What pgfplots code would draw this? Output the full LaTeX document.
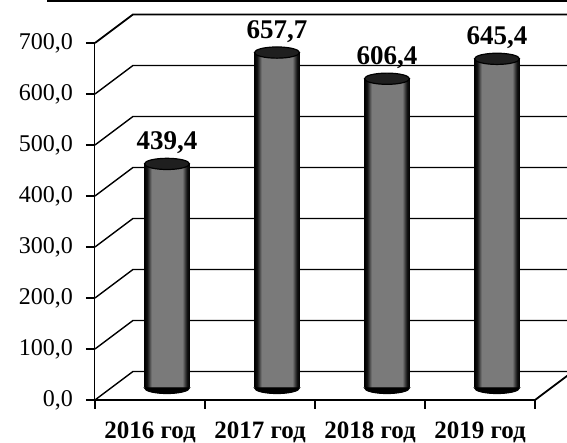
\documentclass[border=0pt]{standalone}
\usepackage{pgfplots}
\pgfplotsset{compat=1.18}
\usepackage{pgfplotstable}
\usepackage{fontspec}
\setmainfont{Liberation Serif}

\pgfdeclarehorizontalshading{cyl}{100bp}{color(0bp)=(black); color(25bp)=(black); color(28bp)=(black!92); color(33bp)=(black!52); color(67bp)=(black!52); color(72bp)=(black!92); color(75bp)=(black); color(100bp)=(black)}
\pgfdeclareplotmark{cap}{\pgfpathellipse{\pgfpointorigin}{\pgfqpoint{11.25pt}{0pt}}{\pgfqpoint{0pt}{2.8pt}}\pgfusepathqfillstroke}
\pgfdeclareplotmark{capbot}{\pgfpathmoveto{\pgfqpoint{-11.25pt}{0pt}}\pgfpatharc{180}{360}{11.25pt and 2.8pt}\pgfpathclose\pgfusepathqfillstroke}

\pgfplotstableread{
x v
0.5 439.4
1.5 657.7
2.5 606.4
3.5 645.4
}\datatable

\begin{document}
\begin{tikzpicture}
\begin{axis}[
  at={(0,0)}, anchor=south west,
  x=55pt, y=0.255pt,
  xmin=0, xmax=4, ymin=0, ymax=700,
  enlargelimits=false,
  clip=false,
  axis x line=bottom, axis y line=left,
  axis line style={-},
  x axis line style={line width=0.9pt},
  y axis line style={line width=0.5pt},
  tick align=outside,
  major tick length=4.5pt,
  tick style={black, line width=0.6pt},
  xtick={0,1,2,3,4},
  x tick label as interval,
  xticklabels={2016 год,2017 год,2018 год,2019 год},
  xticklabel style={font=\bfseries\fontsize{12.5}{13}\selectfont, yshift=-3pt},
  ytick={0,100,...,700},
  yticklabel style={font=\fontsize{12}{13}\selectfont, xshift=-3pt},
  /pgf/number format/.cd, fixed, fixed zerofill, precision=1, use comma, assume math mode=true,
]
% 3D grid: front diagonal + back wall lines
\draw[line width=0.7pt] (axis cs:0,0) -- (axis cs:0.345,55.9) -- (axis cs:4.6,55.9);
\draw[line width=0.7pt] (axis cs:0,100) -- (axis cs:0.345,155.9) -- (axis cs:4.6,155.9);
\draw[line width=0.7pt] (axis cs:0,200) -- (axis cs:0.345,255.9) -- (axis cs:4.6,255.9);
\draw[line width=0.7pt] (axis cs:0,300) -- (axis cs:0.345,355.9) -- (axis cs:4.6,355.9);
\draw[line width=0.7pt] (axis cs:0,400) -- (axis cs:0.345,455.9) -- (axis cs:4.6,455.9);
\draw[line width=0.7pt] (axis cs:0,500) -- (axis cs:0.345,555.9) -- (axis cs:4.6,555.9);
\draw[line width=0.7pt] (axis cs:0,600) -- (axis cs:0.345,655.9) -- (axis cs:4.6,655.9);
\draw[line width=0.9pt] (axis cs:0,700) -- (axis cs:0.345,755.9) -- (axis cs:4.6,755.9);
\draw[line width=0.9pt] (axis cs:4,0) -- (axis cs:4.345,55.9);

% bottom caps (lower half ellipse)
\addplot[only marks, mark=capbot, mark options={fill=black, draw=black, line width=0.5pt}]
  table[x expr=\thisrow{x}+0.1545, y expr=23.53]{\datatable};
% cylinder bodies, one plot per bar so each gets its own shading
\addplot[ybar, bar width=22.5pt, bar shift=8.5pt, yshift=6pt, draw=none, shade, shading=cyl, restrict x to domain=0.4:0.6]
  table[x=x, y=v]{\datatable};
\addplot[ybar, bar width=22.5pt, bar shift=8.5pt, yshift=6pt, draw=none, shade, shading=cyl, restrict x to domain=1.4:1.6]
  table[x=x, y=v]{\datatable};
\addplot[ybar, bar width=22.5pt, bar shift=8.5pt, yshift=6pt, draw=none, shade, shading=cyl, restrict x to domain=2.4:2.6]
  table[x=x, y=v]{\datatable};
\addplot[ybar, bar width=22.5pt, bar shift=8.5pt, yshift=6pt, draw=none, shade, shading=cyl, restrict x to domain=3.4:3.6]
  table[x=x, y=v]{\datatable};
% top caps and value labels
\addplot[only marks, mark=cap, mark options={fill=black!88, draw=black, line width=0.6pt},
  point meta=explicit,
  nodes near coords={\pgfmathprintnumber[fixed,fixed zerofill,precision=1,use comma,assume math mode=true]{\pgfplotspointmeta}},
  every node near coord/.append style={font=\bfseries\fontsize{13.5}{14}\selectfont, anchor=south, yshift=1.5pt, text=black}]
  table[x expr=\thisrow{x}+0.1545, y expr=\thisrow{v}+23.53, meta=v]{\datatable};
\end{axis}
\draw[line width=1.2pt] (-24pt,199.4pt) -- (240pt,199.4pt);
\pgfresetboundingbox
\useasboundingbox (-47.5pt,-21.5pt) rectangle (236pt,200pt);
\end{tikzpicture}
\end{document}
